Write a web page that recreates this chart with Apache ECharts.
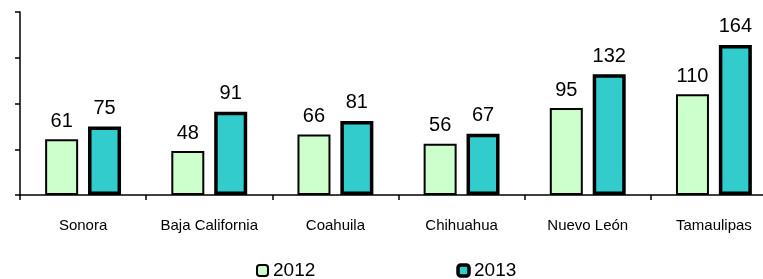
<!DOCTYPE html>
<html lang="es">
<head>
  <meta charset="UTF-8">
  <title>2012 vs 2013</title>
  <script src="https://cdn.jsdelivr.net/npm/echarts@6/dist/echarts.min.js"></script>
  <style>
    * { margin: 0; padding: 0; box-sizing: border-box; }
    body { background: #fff; overflow: hidden; }
    /* the plot runs past the right edge of the window, as in the original */
    #chart { width: 800px; height: 279px; }
  </style>
</head>
<body>
  <div id="chart"></div>
  <script>
    const estados = ['Sonora', 'Baja California', 'Coahuila', 'Chihuahua', 'Nuevo León', 'Tamaulipas'];
    const valores2012 = [61, 48, 66, 56, 95, 110];
    const valores2013 = [75, 91, 81, 67, 132, 164];
    const yMin = 0, yMax = 200, yPaso = 50;

    const fuente = 'Liberation Sans, Arial, sans-serif';
    const chart = echarts.init(document.getElementById('chart'));

    const etiqueta = {
      show: true,
      position: 'top',
      distance: 8,
      fontFamily: fuente,
      fontSize: 20,
      color: '#000'
    };

    chart.setOption({
      animation: false,
      grid: { left: 20, top: 12, width: 757, height: 183, containLabel: false },
      legend: {
        top: 261,
        left: 256,
        padding: 0,
        itemGap: 141,
        itemWidth: 11,
        itemHeight: 11,
        textStyle: { fontFamily: fuente, fontSize: 19, color: '#000' },
        data: [
          { name: '2012', itemStyle: { color: '#ccffcc', borderColor: '#000', borderWidth: 2 } },
          { name: '2013', itemStyle: { color: '#33cccc', borderColor: '#000', borderWidth: 3.5 } }
        ]
      },
      xAxis: {
        type: 'category',
        data: estados,
        axisLine: { lineStyle: { color: '#000', width: 1.5 } },
        axisTick: { show: true, interval: 0, length: 5, lineStyle: { color: '#000', width: 1.5 } },
        axisLabel: { interval: 0, margin: 23, fontFamily: fuente, fontSize: 15, color: '#000' }
      },
      yAxis: {
        type: 'value',
        min: yMin,
        max: yMax,
        interval: yPaso,
        axisLine: { show: true, lineStyle: { color: '#000', width: 1.5 } },
        axisTick: { show: true, length: 5, lineStyle: { color: '#000', width: 1.5 } },
        axisLabel: { show: false },
        splitLine: { show: false }
      },
      series: [
        {
          name: '2012',
          type: 'bar',
          data: valores2012,
          barWidth: 33,
          barGap: '30%',
          itemStyle: { color: '#ccffcc', borderColor: '#000', borderWidth: 2 },
          label: etiqueta
        },
        {
          name: '2013',
          type: 'bar',
          data: valores2013,
          barWidth: 33,
          itemStyle: { color: '#33cccc', borderColor: '#000', borderWidth: 3.5 },
          label: etiqueta
        }
      ]
    });
  </script>
</body>
</html>
